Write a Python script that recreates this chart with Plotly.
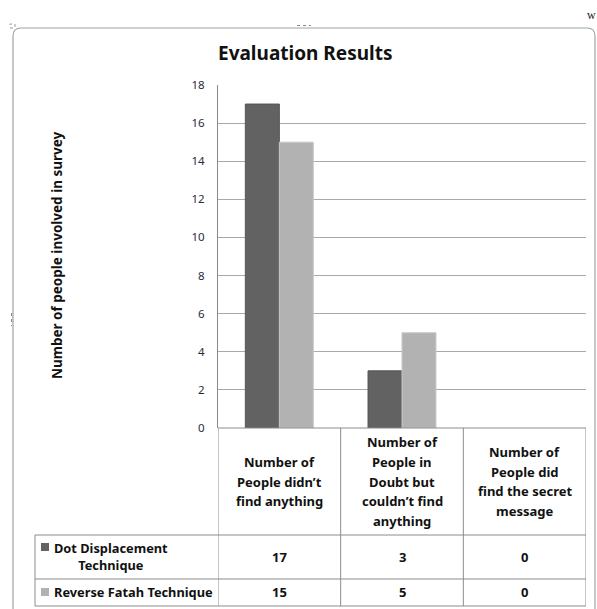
import plotly.graph_objects as go

# ---- data ----
categories = [
    "Number of<br>People didn’t<br>find anything",
    "Number of<br>People in<br>Doubt but<br>couldn’t find<br>anything",
    "Number of<br>People did<br>find the secret<br>message",
]
series_names = ["Dot Displacement<br>Technique", "Reverse Fatah Technique"]
dot_values = [17, 3, 0]
fatah_values = [15, 5, 0]
y_ticks = [0, 2, 4, 6, 8, 10, 12, 14, 16, 18]
series_colors = ["#626262", "#b2b2b2"]
series_edges = ["#555555", "#c9c9c9"]

W, H = 597, 609
FONT = "Noto Sans"


def px(x):
    return x / W


def py(y):
    return 1 - y / H


fig = go.Figure()
for name, vals, col, edge in zip(series_names, [dot_values, fatah_values],
                                 series_colors, series_edges):
    # zero-height bars get no outline so nothing shows at the baseline
    edge_w = [1 if v > 0 else 0 for v in vals]
    fig.add_trace(go.Bar(x=categories, y=vals, name=name,
                         marker=dict(color=col, line=dict(color=edge, width=edge_w))))

fig.update_layout(
    template="none",
    width=W, height=H,
    margin=dict(l=0, r=0, t=0, b=0, pad=0, autoexpand=False),
    paper_bgcolor="white", plot_bgcolor="white",
    showlegend=False,
    barmode="group", bargap=0.446, bargroupgap=0,
    font=dict(family=FONT, color="#1a1a1a"),
    xaxis=dict(domain=[px(218), px(586)], range=[-0.5, 2.5], automargin=False,
               showticklabels=False, showgrid=False, zeroline=False,
               showline=False, fixedrange=True),
    yaxis=dict(domain=[py(428), py(85)], range=[0, 18], tickvals=y_ticks,
               automargin=False,
               showgrid=True, gridcolor="#a9a9a9", gridwidth=1,
               zeroline=False, showline=True, linecolor="#8a8a8a",
               ticks="", ticklabelstandoff=10,
               tickfont=dict(size=11.5, color="#2a2a3a", family=FONT)),
)

shapes = []
line_col = "#8c8c8c"

# data table grid: column borders follow the category axis
col_edges = [-0.5, 0.5, 1.5, 2.5]
for xe in col_edges:
    shapes.append(dict(type="line", xref="x", yref="paper", x0=xe, x1=xe,
                       y0=py(428), y1=py(606), line=dict(color=line_col, width=1)))
shapes.append(dict(type="line", xref="x", yref="paper", x0=-0.5, x1=2.5,
                   y0=py(428), y1=py(428), line=dict(color=line_col, width=1)))
for yr in [535, 579, 606]:
    shapes.append(dict(type="line", xref="paper", yref="paper", x0=px(35), x1=px(586),
                       y0=py(yr), y1=py(yr), line=dict(color=line_col, width=1)))
shapes.append(dict(type="line", xref="paper", yref="paper", x0=px(35), x1=px(35),
                   y0=py(535), y1=py(606), line=dict(color=line_col, width=1)))

# legend keys in the row header cells
row_centers = [557, 592]
key_rows = [547, 592]
for ky, col in zip(key_rows, series_colors):
    shapes.append(dict(type="rect", xref="paper", yref="paper",
                       x0=px(41), x1=px(49), y0=py(ky + 4), y1=py(ky - 4),
                       fillcolor=col, line=dict(width=0)))

# outer chart frame
shapes.append(dict(type="path", xref="paper", yref="paper",
                   path=(f"M {px(13)},{py(640)} L {px(13)},{py(36)} "
                         f"Q {px(13)},{py(28)} {px(21)},{py(28)} "
                         f"L {px(587)},{py(28)} Q {px(595)},{py(28)} {px(595)},{py(36)} "
                         f"L {px(595)},{py(640)}"),
                   line=dict(color="#9aa4a4", width=1.2)))
# frame resize handles (dotted marks)
shapes.append(dict(type="line", xref="paper", yref="paper", x0=px(297), x1=px(311),
                   y0=py(25.5), y1=py(25.5), line=dict(color="#888888", width=1, dash="dot")))
shapes.append(dict(type="line", xref="paper", yref="paper", x0=px(11.5), x1=px(11.5),
                   y0=py(313), y1=py(326), line=dict(color="#888888", width=1, dash="dot")))
shapes.append(dict(type="rect", xref="paper", yref="paper", x0=px(10), x1=px(15),
                   y0=py(28), y1=py(24), line=dict(color="#9a9a9a", width=1, dash="dot")))
fig.update_layout(shapes=shapes)

ann = []
# title
ann.append(dict(text="<b>Evaluation Results</b>", x=px(305), y=py(53),
                xref="paper", yref="paper", showarrow=False,
                font=dict(size=19, family=FONT, color="#111111"),
                xanchor="center", yanchor="middle"))
# y-axis title
ann.append(dict(text="<b>Number of people involved in survey</b>", x=px(57), y=py(255),
                xref="paper", yref="paper", showarrow=False, textangle=-90,
                font=dict(size=13.5, family=FONT, color="#111111"),
                xanchor="center", yanchor="middle"))
# column headers, one line at a time
line_h = 19.5
for i, cat in enumerate(categories):
    lines = cat.split("<br>")
    y0 = 481.5 - (len(lines) - 1) * line_h / 2
    for j, ln in enumerate(lines):
        ann.append(dict(text=f"<b>{ln}</b>", x=i, y=py(y0 + j * line_h),
                        xref="x", yref="paper", showarrow=False,
                        font=dict(size=13, family=FONT, color="#111111"),
                        xanchor="center", yanchor="middle"))
# values
for vals, yc in zip([dot_values, fatah_values], row_centers):
    for i, v in enumerate(vals):
        ann.append(dict(text=f"<b>{v}</b>", x=i, y=py(yc), xref="x", yref="paper",
                        showarrow=False, font=dict(size=13, family=FONT, color="#111111"),
                        xanchor="center", yanchor="middle"))
# row headers
label_rows = [556, 592]
for name, yc in zip(series_names, label_rows):
    ann.append(dict(text=f"<b>{name}</b>", x=px(52), y=py(yc),
                    xref="paper", yref="paper", showarrow=False, align="center",
                    font=dict(size=12.8, family=FONT, color="#111111"),
                    xanchor="left", yanchor="middle"))
# stray page text
ann.append(dict(text="w", x=px(591), y=py(15), xref="paper", yref="paper",
                showarrow=False, font=dict(size=12, family="Liberation Serif", color="#222"),
                xanchor="center", yanchor="middle"))
fig.update_layout(annotations=ann)

fig.write_html(
    "out.html",
    post_script=(
        "document.documentElement.style.margin='0';"
        "document.body.style.margin='0';"
        "document.documentElement.style.overflow='hidden';"
    ),
)
